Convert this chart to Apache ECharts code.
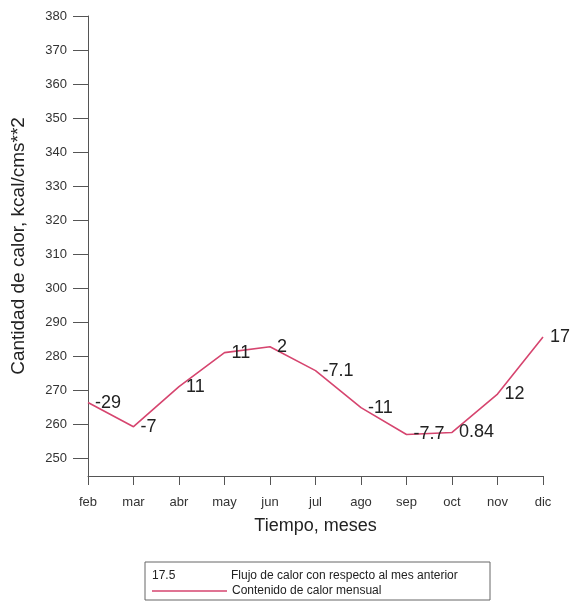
<!DOCTYPE html>
<html>
<head>
<meta charset="utf-8">
<script src="https://cdn.jsdelivr.net/npm/echarts@6/dist/echarts.min.js"></script>
<style>
  html, body { margin: 0; padding: 0; background: #fff; }
  #chart { width: 576px; height: 605px; }
</style>
</head>
<body>
<div id="chart"></div>
<script>
// Months shown on the horizontal axis
const months = ['feb', 'mar', 'abr', 'may', 'jun', 'jul', 'ago', 'sep', 'oct', 'nov', 'dic'];
// Monthly heat content (kcal/cm^2)
const heatContent = [266.3, 259.2, 271.0, 281.0, 282.7, 275.7, 264.8, 256.9, 257.5, 268.8, 285.6];
// Heat flux relative to the previous month, printed beside each point
const heatFlux = ['-29', '-7', '11', '11', '2', '-7.1', '-11', '-7.7', '0.84', '12', '17'];
// Tick values on the vertical axis
const yTicks = [250, 260, 270, 280, 290, 300, 310, 320, 330, 340, 350, 360, 370, 380];

const FONT = '"Liberation Sans", Arial, Helvetica, sans-serif';
const LINE_COLOR = '#d6456f';

const chart = echarts.init(document.getElementById('chart'), null, { renderer: 'canvas' });

chart.setOption({
  backgroundColor: '#ffffff',
  animation: false,
  grid: { left: 88, right: 33, top: 16, bottom: 129, containLabel: false },
  xAxis: {
    type: 'category',
    data: months,
    boundaryGap: false,
    name: 'Tiempo, meses',
    nameLocation: 'middle',
    nameGap: 41,
    nameTextStyle: { fontFamily: FONT, fontSize: 18, color: '#222' },
    axisLine: { lineStyle: { color: '#555', width: 1 } },
    axisTick: { alignWithLabel: true, length: 9, lineStyle: { color: '#555' } },
    axisLabel: { fontFamily: FONT, fontSize: 13, color: '#333', margin: 20 },
    splitLine: { show: false }
  },
  yAxis: {
    type: 'value',
    min: 244.7,
    max: 380,
    name: 'Cantidad de calor, kcal/cms**2',
    nameLocation: 'middle',
    nameGap: 60,
    nameRotate: 90,
    nameTextStyle: { fontFamily: FONT, fontSize: 19, color: '#222' },
    axisLine: { show: true, lineStyle: { color: '#555', width: 1 } },
    axisTick: { show: true, length: 15, customValues: yTicks, lineStyle: { color: '#555' } },
    axisLabel: { fontFamily: FONT, fontSize: 13, color: '#333', margin: 21, customValues: yTicks },
    splitLine: { show: false }
  },
  legend: {
    left: 147,
    top: 580,
    itemWidth: 75,
    itemHeight: 12,
    itemGap: 10,
    textStyle: { fontFamily: FONT, fontSize: 12, color: '#222' },
    data: [{ name: 'Contenido de calor mensual', icon: 'path://M0,3 L75,3 L75,4.5 L0,4.5 Z' }]
  },
  graphic: [
    {
      type: 'rect',
      shape: { x: 145, y: 562, width: 345, height: 38 },
      style: { fill: 'none', stroke: '#666', lineWidth: 1 }
    },
    {
      type: 'text',
      x: 152, y: 570,
      style: { text: '17.5', font: '12px ' + FONT, fill: '#222' }
    },
    {
      type: 'text',
      x: 231, y: 570,
      style: { text: 'Flujo de calor con respecto al mes anterior', font: '12px ' + FONT, fill: '#222' }
    }
  ],
  series: [
    {
      name: 'Contenido de calor mensual',
      type: 'line',
      data: heatContent,
      symbol: 'circle',
      symbolSize: 0.1,
      showSymbol: true,
      lineStyle: { color: LINE_COLOR, width: 1.6 },
      itemStyle: { color: LINE_COLOR },
      label: {
        show: true,
        position: 'right',
        distance: 7,
        fontFamily: FONT,
        fontSize: 18,
        color: '#222',
        formatter: p => heatFlux[p.dataIndex]
      },
      labelLayout: { hideOverlap: false }
    }
  ]
});
</script>
</body>
</html>
